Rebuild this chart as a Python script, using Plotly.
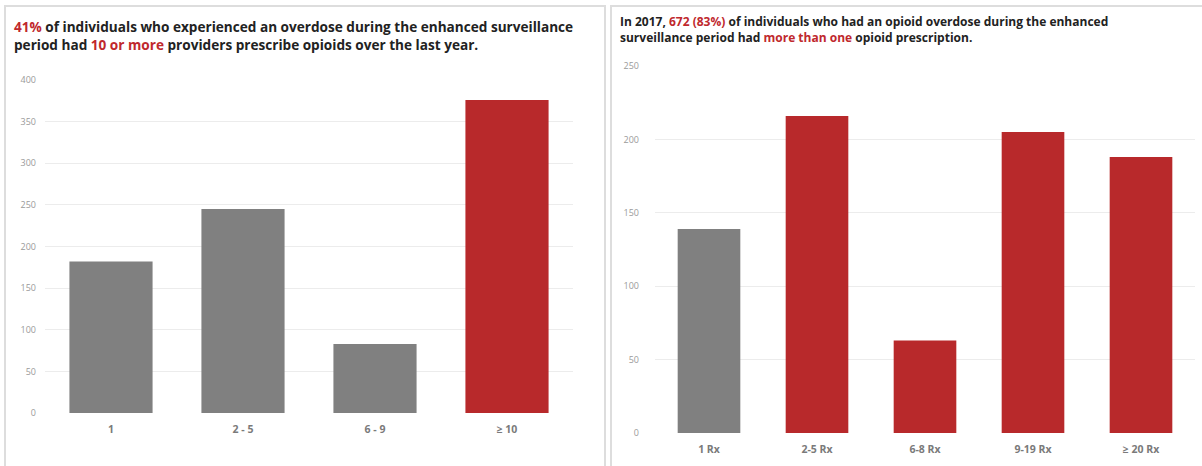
import plotly.graph_objects as go

W, H = 1202, 466

# Left chart data
left_cats = ["1", "2 - 5", "6 - 9", "≥ 10"]
left_vals = [182, 245, 83, 376]
left_colors = ["#808080", "#808080", "#808080", "#b8292b"]
left_ticks = [0, 50, 100, 150, 200, 250, 300, 350, 400]

# Right chart data
right_cats = ["1 Rx", "2-5 Rx", "6-8 Rx", "9-19 Rx", "≥ 20 Rx"]
right_vals = [139, 216, 63, 205, 188]
right_colors = ["#808080", "#b8292b", "#b8292b", "#b8292b", "#b8292b"]
right_ticks = [0, 50, 100, 150, 200, 250]

RED = "#c0282d"

def px(x):
    return x / W

def py(y):
    return 1 - y / H

fig = go.Figure()
fig.add_trace(go.Bar(x=left_cats, y=left_vals, width=[0.63] * len(left_cats),
                     marker=dict(color=left_colors, line=dict(width=0)),
                     xaxis="x", yaxis="y", hoverinfo="x+y"))
fig.add_trace(go.Bar(x=right_cats, y=right_vals, width=[0.58] * len(right_cats),
                     marker=dict(color=right_colors, line=dict(width=0)),
                     xaxis="x2", yaxis="y2", hoverinfo="x+y"))

ytick_font = dict(family="Open Sans", size=9, color="#9a9a9a")
xtick_font = dict(family="Open Sans", size=10.5, color="#7a7a7a", weight="bold")

fig.update_layout(
    width=W, height=H,
    margin=dict(l=0, r=0, t=0, b=0, autoexpand=False),
    paper_bgcolor="white", plot_bgcolor="white",
    showlegend=False,
    xaxis=dict(domain=[px(45), px(573)], anchor="y", tickfont=xtick_font,
               showgrid=False, showline=False, ticks="", ticklabelstandoff=8, fixedrange=True),
    yaxis=dict(domain=[py(413), py(80)], anchor="x", range=[0, 400], tickvals=left_ticks,
               tickfont=ytick_font, showgrid=True, gridcolor="#ececec", gridwidth=1,
               zeroline=False, showline=False, ticks="", ticklabelstandoff=8, fixedrange=True,
               automargin=False),
    xaxis2=dict(domain=[px(655), px(1195)], anchor="y2", tickfont=xtick_font,
                showgrid=False, showline=False, ticks="", ticklabelstandoff=8, fixedrange=True),
    yaxis2=dict(domain=[py(433), py(66)], anchor="x2", range=[0, 250], tickvals=right_ticks,
                tickfont=ytick_font, showgrid=True, gridcolor="#ececec", gridwidth=1,
                zeroline=False, showline=False, ticks="", ticklabelstandoff=15, fixedrange=True,
                automargin=False),
)

# Panel borders
border = dict(color="#dddddd", width=2)
fig.add_shape(type="rect", xref="paper", yref="paper", x0=px(5), x1=px(605), y0=py(475), y1=py(6),
              line=border, fillcolor="rgba(0,0,0,0)", layer="below")
fig.add_shape(type="rect", xref="paper", yref="paper", x0=px(611), x1=px(1210), y0=py(475), y1=py(6),
              line=border, fillcolor="rgba(0,0,0,0)", layer="below")

left_title = (f"<b><span style='color:{RED}'>41%</span> of individuals who experienced an overdose during the enhanced surveillance<br>"
              f"period had <span style='color:{RED}'>10 or more</span> providers prescribe opioids over the last year.</b>")
right_title = (f"<b>In 2017, <span style='color:{RED}'>672 (83%)</span> of individuals who had an opioid overdose during the enhanced<br>"
               f"surveillance period had <span style='color:{RED}'>more than one</span> opioid prescription.</b>")

fig.add_annotation(xref="paper", yref="paper", x=px(12), y=py(15), xanchor="left", yanchor="top",
                   text=left_title, showarrow=False, align="left",
                   font=dict(family="Open Sans", size=13.6, color="#222222"))
fig.add_annotation(xref="paper", yref="paper", x=px(618), y=py(11), xanchor="left", yanchor="top",
                   text=right_title, showarrow=False, align="left",
                   font=dict(family="Open Sans", size=12, color="#222222"))

fig.write_html("out.html", config={"displayModeBar": False},
               post_script="document.body.style.margin='0';document.body.style.overflow='hidden';")
